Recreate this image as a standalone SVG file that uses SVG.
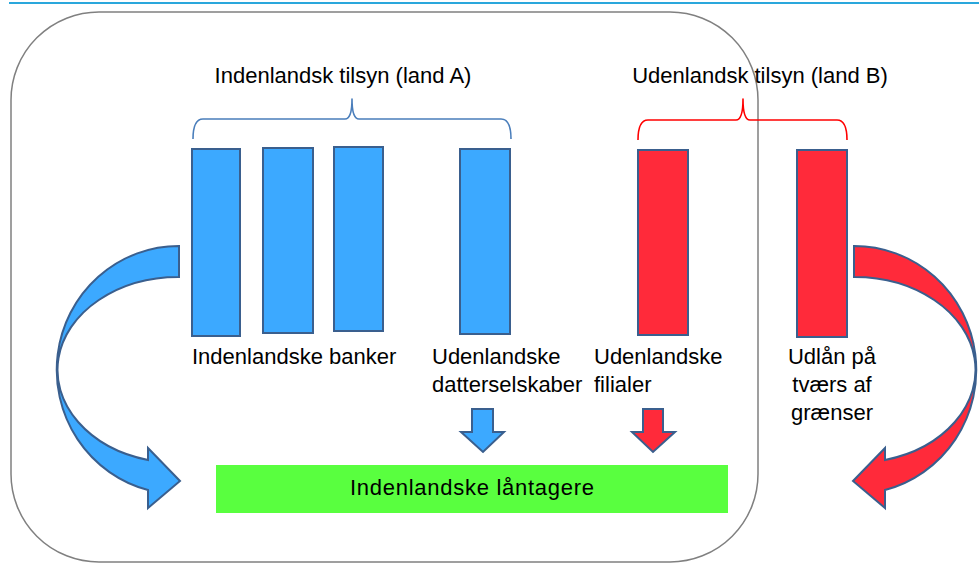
<svg xmlns="http://www.w3.org/2000/svg" width="979" height="563" viewBox="0 0 979 563">
<style>
  text { font-family: "Liberation Sans", Arial, sans-serif; font-size: 22px; fill: #000; }
  .mid { text-anchor: middle; }
  .blue { fill: #3ca9ff; stroke: #3a5f8e; stroke-width: 2; }
  .red { fill: #ff2a3a; stroke: #3a5f8e; stroke-width: 2; }
  .brace { fill: none; stroke-width: 1.6; stroke-linejoin: round; }
</style>
<rect x="0" y="0" width="979" height="563" fill="#ffffff"/>
<line x1="9" y1="3" x2="979" y2="3" stroke="#2aa7dc" stroke-width="2"/>
<g id="frame">
  <rect x="11" y="12" width="747" height="550" rx="88" ry="88" fill="none" stroke="#808080" stroke-width="1.5"/>
</g>
<g id="title-a">
  <text x="343" y="83" class="mid">Indenlandsk tilsyn (land A)</text>
  <path class="brace" stroke="#4a7ebb" d="M193,139 Q193,119 203,119 L345,119 Q352,119 352,99 Q352,119 359,119 L501,119 Q511,119 511,139"/>
</g>
<g id="title-b">
  <text x="760" y="83" class="mid">Udenlandsk tilsyn (land B)</text>
  <path class="brace" stroke="#ff0000" stroke-width="2" d="M638,140 Q638,120 648,120 L736,120 Q743,120 743,99 Q743,120 750,120 L837,120 Q847,120 847,140"/>
</g>
<g id="domestic-banks">
  <rect class="blue" x="192" y="149" width="48" height="187"/>
  <rect class="blue" x="263" y="148" width="50" height="185"/>
  <rect class="blue" x="334" y="147" width="49" height="184"/>
  <text x="192" y="364">Indenlandske banker</text>
</g>
<g id="foreign-subsidiaries">
  <rect class="blue" x="460" y="149" width="50" height="185"/>
  <text x="432" y="364">Udenlandske</text>
  <text x="432" y="392">datterselskaber</text>
</g>
<g id="foreign-branches">
  <rect class="red" x="638" y="150" width="50" height="185"/>
  <text x="594" y="364">Udenlandske</text>
  <text x="594" y="392">filialer</text>
</g>
<g id="cross-border">
  <rect class="red" x="797" y="150" width="50" height="187"/>
  <text x="832" y="364" class="mid">Udlån på</text>
  <text x="832" y="392" class="mid">tværs af</text>
  <text x="832" y="420" class="mid">grænser</text>
</g>
<g id="borrowers">
  <rect x="216" y="465" width="512" height="48" fill="#59ff3f"/>
  <text x="472" y="495" class="mid" textLength="244" lengthAdjust="spacing">Indenlandske låntagere</text>
</g>
<g id="connectors">
  <path class="blue" d="M179,246 A122,124 0 0 0 148,490 L148,508 L180,481 L148,448 L148,460 A121,93 0 0 1 179,277 Z"/>
  <path class="red" d="M854,246 A122,124 0 0 1 885,490 L885,508 L853,481 L885,448 L885,460 A121,93 0 0 0 854,277 Z"/>
  <path class="blue" d="M472,409 L493,409 L493,432 L504,432 L483,452 L461,432 L472,432 Z"/>
  <path class="red" d="M643,409 L663,409 L663,432 L675,432 L653,452 L632,432 L643,432 Z"/>
</g>
</svg>
